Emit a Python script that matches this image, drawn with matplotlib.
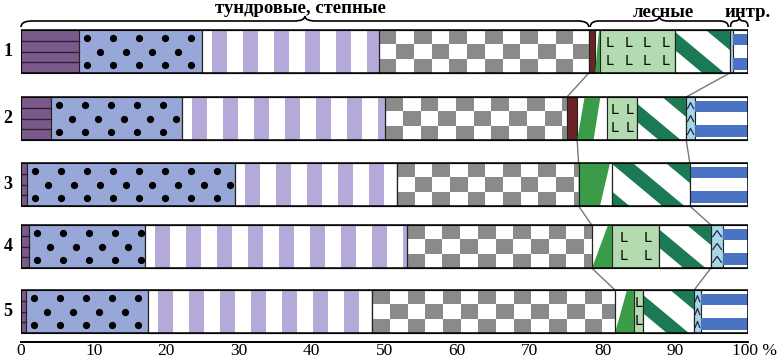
import numpy as np
import matplotlib.pyplot as plt
from matplotlib.patches import Rectangle, Polygon, PathPatch
from matplotlib.path import Path
from matplotlib.transforms import ScaledTranslation

# shares of soil groups, %
rows = ['1', '2', '3', '4', '5']
purple = [8.0, 4.1, 0.8, 1.1, 0.7]
dots = [16.9, 18.0, 28.6, 16.0, 16.8]
lavender = [24.3, 28.0, 22.3, 36.0, 30.8]
checker = [28.9, 25.0, 25.0, 25.4, 33.4]
darkred = [0.9, 1.4, 0.0, 0.0, 0.0]
green = [0.6, 4.1, 4.6, 2.8, 2.6]
lightgreen = [10.4, 4.1, 0.0, 6.5, 1.3]
diag = [7.5, 6.8, 10.7, 7.1, 7.0]
chevron = [0.4, 1.2, 0.0, 1.7, 0.9]
blue = [2.1, 7.3, 8.0, 3.4, 6.5]

groups = ['тундровые, степные', 'лесные', 'интр.']
ticks = [0, 10, 20, 30, 40, 50, 60, 70, 80, 90, 100]
tick_labels = ['0', '10', '20', '30', '40', '50', '60', '70', '80', '90', '100 %']

plt.rcParams['font.family'] = ['Liberation Serif', 'DejaVu Serif']

fig = plt.figure(figsize=(7.81, 3.6), dpi=100)
ax = fig.add_axes([21 / 781, 18 / 360, 727 / 781, 342 / 360])
ax.set_xlim(0, 100)
ax.set_ylim(342, 0)
PX = 727 / 100  # pixels per percent

tops = [30, 97, 163, 225, 290]
H = 43
# green wedge shape: bottom-left, bottom-right, top-left, top-right (fractions)
wedge = [(0, 1, 0.9, 1), (0.0, 0.55, 0.25, 0.78), (0, 0.64, 0, 0.94),
         (0, 1, 0.8, 1), (0, 1, 0.63, 1)]

c_purple = '#7b5a8b'
c_dots = '#97a7d8'
c_lav = '#b4a9d9'
c_grey = '#8a8a8a'
c_red = '#6a2428'
c_green = '#3a9c48'
c_lgreen = '#b3dbaf'
c_dgreen = '#1b7a53'
c_chev = '#a9d7e5'
c_blue = '#4a73c3'
edge = '#222222'


def seg_rect(x0, w, top, fc):
    r = Rectangle((x0, top), w, H, facecolor=fc, edgecolor=edge, lw=0.8, zorder=1)
    ax.add_patch(r)
    return r


def brace(xa, xb, y, r=1.3, up=5, down=6):
    xm = (xa + xb) / 2
    verts = [(xa, y + down), (xa, y), (xa + r, y),
             (xm - r, y), (xm, y), (xm, y - up),
             (xm, y), (xm + r, y),
             (xb - r, y), (xb, y), (xb, y + down)]
    codes = [Path.MOVETO, Path.CURVE3, Path.CURVE3,
             Path.LINETO, Path.CURVE3, Path.CURVE3,
             Path.CURVE3, Path.CURVE3,
             Path.LINETO, Path.CURVE3, Path.CURVE3]
    ax.add_patch(PathPatch(Path(verts, codes), fc='none', ec='black', lw=1.2,
                           clip_on=False))


forest_in = []
forest_out = []
intr_x = []

for i, lab in enumerate(rows):
    top = tops[i]
    bot = top + H
    x = 0.0

    # purple with horizontal lines
    w = purple[i]
    seg_rect(x, w, top, c_purple)
    for f in [0.25, 0.5, 0.75]:
        ax.plot([x, x + w], [top + f * H] * 2, color='#2a1f33', lw=1, zorder=2)
    x += w

    # blue with dots
    w = dots[i]
    seg_rect(x, w, top, c_dots)
    sp = 26 / PX
    for f, off in [(0.18, 1.1), (0.5, 1.1 + sp / 2), (0.82, 1.1)]:
        xs = np.arange(x + off, x + w - 0.5, sp)
        ax.plot(xs, [top + f * H] * len(xs), 'o', color='black', ms=4.2, zorder=2)
    x += w

    # lavender vertical stripes
    w = lavender[i]
    seg_rect(x, w, top, 'white')
    per, sw, off = 31 / PX, 15 / PX, 10 / PX
    s = x + off
    while s < x + w:
        ax.add_patch(Rectangle((s, top), min(sw, x + w - s), H, facecolor=c_lav,
                               edgecolor='none', zorder=1.5))
        s += per
    ax.add_patch(Rectangle((x, top), w, H, fc='none', ec=edge, lw=0.8, zorder=2))
    x += w

    # grey checker
    w = checker[i]
    seg_rect(x, w, top, 'white')
    cw = 17.7 / PX
    ncol = int(np.ceil(w / cw))
    for c in range(ncol):
        for rr in range(3):
            if (c + rr) % 2 == 0:
                ax.add_patch(Rectangle((x + c * cw, top + rr * H / 3),
                                       min(cw, w - c * cw), H / 3,
                                       facecolor=c_grey, edgecolor='none', zorder=1.5))
    ax.add_patch(Rectangle((x, top), w, H, fc='none', ec=edge, lw=0.8, zorder=2))
    x += w
    forest_in.append(x)

    # dark red
    w = darkred[i]
    if w > 0:
        seg_rect(x, w, top, c_red)
    x += w
    forest_out.append(x)

    # green wedge
    w = green[i]
    seg_rect(x, w, top, 'white')
    bl, br, tl, tr = wedge[i]
    ax.add_patch(Polygon([(x + bl * w, bot), (x + br * w, bot), (x + tr * w, top),
                          (x + tl * w, top)], closed=True, facecolor=c_green,
                         edgecolor='none', zorder=1.5))
    x += w

    # light green with L
    w = lightgreen[i]
    if w > 0:
        seg_rect(x, w, top, c_lgreen)
        n = max(1, int(round(w * PX / 19)))
        for k in range(n):
            for f in [0.31, 0.73]:
                ax.text(x + (k + 0.5) * w / n, top + f * H, 'L', ha='center',
                        va='center', fontsize=10, family='DejaVu Sans', zorder=3)
    x += w

    # diagonal stripes
    w = diag[i]
    r = seg_rect(x, w, top, 'white')
    xr = x + w - 2 / PX
    bw, per = 22 / PX, 55 / PX
    shift = 1.2 * H / PX
    k = 0
    while xr - k * per + shift > x:
        xb = xr - k * per
        xa = xb - bw
        p = Polygon([(xa, top), (xb, top), (xb + shift, bot), (xa + shift, bot)],
                    closed=True, facecolor=c_dgreen, edgecolor='none', zorder=1.5)
        ax.add_patch(p)
        p.set_clip_path(r)
        k += 1
    ax.add_patch(Rectangle((x, top), w, H, fc='none', ec=edge, lw=0.8, zorder=2))
    x += w
    intr_x.append(x)

    # light blue with chevrons
    w = chevron[i]
    if w > 0:
        seg_rect(x, w, top, c_chev)
        if w > 0.8:
            for f in [0.2, 0.5, 0.8]:
                yc = top + f * H
                ax.plot([x + 0.15 * w, x + 0.5 * w, x + 0.85 * w],
                        [yc + 3, yc - 3, yc + 3], color='#1a2a50', lw=0.9, zorder=2)
    x += w

    # blue horizontal stripes
    w = blue[i]
    seg_rect(x, w, top, 'white')
    for f0, f1 in [(0.1, 0.36), (0.64, 0.92)]:
        ax.add_patch(Rectangle((x, top + f0 * H), w, (f1 - f0) * H,
                               facecolor=c_blue, edgecolor='none', zorder=1.5))
    x += w

    # bar outline
    ax.add_patch(Rectangle((0, top), x, H, fc='none', ec='black', lw=1.1, zorder=3))

    ax.text(-1.8, top + H / 2, lab, ha='center', va='center', fontsize=13,
            fontweight='bold', clip_on=False)

# connecting lines between the bars
for i in range(len(rows) - 1):
    xo = forest_in[i] if i == 0 else forest_out[i]
    ax.plot([xo, forest_in[i + 1]], [tops[i] + H, tops[i + 1]],
            color='#777777', lw=1, zorder=0)
    ax.plot([intr_x[i], intr_x[i + 1]], [tops[i] + H, tops[i + 1]],
            color='#777777', lw=1, zorder=0)

# braces and group names on top
brace(0, forest_in[0], 21, r=1.5, up=5, down=6)
brace(forest_in[0] + 0.2, intr_x[0] - 0.2, 21, r=1.2, up=5, down=6)
brace(intr_x[0] + 0.1, 100, 21, r=0.6, up=4, down=6)
ax.text(38.4, 13, groups[0], ha='center', va='baseline', fontsize=13.5,
        fontweight='bold', clip_on=False)
ax.text(88.4, 17, groups[1], ha='center', va='baseline', fontsize=13.5,
        fontweight='bold', clip_on=False)
ax.text(100, 17, groups[2], ha='center', va='baseline', fontsize=13.5,
        fontweight='bold', clip_on=False)

# axis
for sp_name in ['top', 'left', 'right']:
    ax.spines[sp_name].set_visible(False)
ax.spines['bottom'].set_linewidth(1.4)
ax.set_yticks([])
ax.set_xticks(ticks)
ax.set_xticklabels(tick_labels, fontsize=12.5)
ax.tick_params(axis='x', length=0, pad=0.5)
last = ax.get_xticklabels()[-1]
last.set_transform(last.get_transform() + ScaledTranslation(0.07, 0, fig.dpi_scale_trans))

fig.savefig('out.png', dpi=100)
